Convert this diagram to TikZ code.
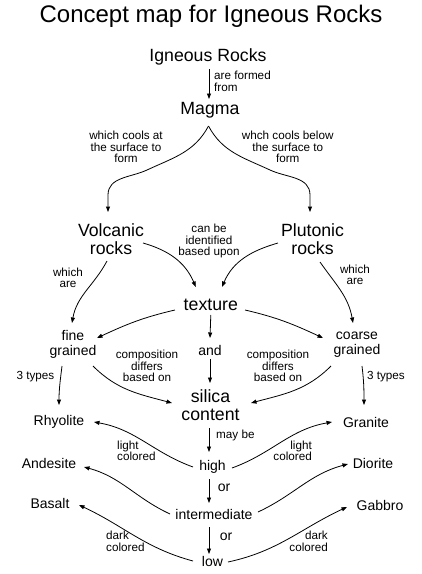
\documentclass[tikz,border=0pt]{standalone}
\usepackage{fontspec}
\setmainfont{Liberation Sans}
\usetikzlibrary{arrows.meta,calc}
\begin{document}
\begin{tikzpicture}[x=1pt,y=1pt,
  arr/.style={line width=0.8pt,-{Triangle[length=5.5pt,width=4pt]}},
  big/.style={font=\fontsize{17.7}{18}\selectfont,align=center,inner sep=0pt},
  mid/.style={font=\fontsize{14}{15}\selectfont,align=center,inner sep=0pt},
  lab/.style={font=\fontsize{11.7}{11.6}\selectfont,align=center,inner sep=0pt}]
\useasboundingbox[fill=white] (0,0) rectangle (422,-574);
% nodes
\node[font=\fontsize{24}{28}\selectfont] (title) at (211,-16) {Concept map for Igneous Rocks};
\node[big] (ign) at (208,-57) {Igneous Rocks};
\node[lab,align=left,anchor=west] (l1) at (214,-81.5) {are formed\\from};
\node[big] (magma) at (210,-110) {Magma};
\node[lab] (l2) at (126,-147) {which cools at\\the surface to\\form};
\node[lab] (l3) at (287.7,-147) {whch cools below\\the surface to\\form};
\node[big] (volc) at (111,-239) {Volcanic\\rocks};
\node[big] (plut) at (312.5,-239) {Plutonic\\rocks};
\node[lab] (l4) at (209,-241) {can be\\identified\\based upon};
\node[big] (tex) at (210.8,-305) {texture};
\node[lab] (l5) at (68,-278) {which\\are};
\node[lab] (l6) at (355,-275) {which\\are};
\node[mid] (fine) at (73,-344.5) {fine\\grained};
\node[mid] (coarse) at (357,-345) {coarse\\grained};
\node[mid] (and) at (210,-350) {and};
\node[lab] (l7) at (147,-366) {composition\\differs\\based on};
\node[lab] (l8) at (278,-366) {composition\\differs\\based on};
\node[lab] (l9) at (35.5,-377) {3 types};
\node[lab] (l10) at (386,-377) {3 types};
\node[big] (sil) at (210.5,-405.5) {silica\\content};
\node[mid] (rhy) at (59,-422) {Rhyolite};
\node[mid] (gra) at (366,-422) {Granite};
\node[lab,anchor=west] (l11) at (216,-435) {may be};
\node[mid] (high) at (212.5,-467) {high};
\node[lab,align=left,anchor=west] (l12) at (117,-451) {light\\colored};
\node[lab,align=right,anchor=east] (l13) at (312,-451) {light\\colored};
\node[mid] (and2) at (49,-463) {Andesite};
\node[mid] (dio) at (373,-463) {Diorite};
\node[mid] (or1) at (224,-488) {or};
\node[mid] (inter) at (214,-514) {intermediate};
\node[mid] (bas) at (50,-503) {Basalt};
\node[mid] (gab) at (380,-505) {Gabbro};
\node[mid] (or2) at (226,-537) {or};
\node[lab,align=left,anchor=west] (l14) at (106,-541.5) {dark\\colored};
\node[lab,align=right,anchor=east] (l15) at (328,-541.5) {dark\\colored};
\node[mid] (low) at (212.5,-561) {low};
% connectors
\draw[arr] ($(ign)+(1,-12)$) -- ($(magma)+(-1,11)$);
\draw[arr] ($(magma)+(-1.5,-16)$) to[out=-118,in=25] ($(magma)+(-63,-60)$)
  to[out=205,in=90] ($(volc)+(-3,44)$) -- ($(volc)+(-3,27)$);
\draw[arr] ($(magma)+(-1.5,-16)$) to[out=-62,in=155] ($(magma)+(60,-60)$)
  to[out=-25,in=90] ($(plut)+(-2.5,44)$) -- ($(plut)+(-2.5,27)$);
\draw[arr] ($(volc)+(32,-4)$) to[out=-16,in=113] ($(tex)+(-15,18)$);
\draw[arr] ($(plut)+(-34.5,-4)$) to[out=196,in=67] ($(tex)+(11.2,18)$);
\draw[arr] ($(volc)+(-4,-22)$) to[out=-118,in=80] ($(fine)+(-1,21.5)$);
\draw[arr] ($(plut)+(7.5,-23)$) to[out=-55,in=100] ($(coarse)+(-4,22)$);
\draw[arr] ($(tex)+(-35.8,-5)$) to[out=193,in=25] ($(fine)+(24,6.5)$);
\draw[arr] ($(tex)+(34.2,-5)$) to[out=-13,in=155] ($(coarse)+(-34,7)$);
\draw[arr] ($(tex)+(0,-10)$) -- ($(and)+(0,12)$);
\draw[arr] ($(and)+(0,-9)$) -- ($(sil)+(-0.5,22.5)$);
\draw[arr] ($(fine)+(20,-21.5)$) to[out=-45,in=165] ($(sil)+(-38.5,2.5)$);
\draw[arr] ($(coarse)+(-26,-21)$) to[out=-135,in=15] ($(sil)+(40.5,2.5)$);
\draw[arr] ($(fine)+(-11,-21.5)$) to[out=-97,in=90] ($(rhy)+(0,17)$);
\draw[arr] ($(coarse)+(5,-21)$) to[out=-83,in=90] ($(gra)+(-2,17)$);
\draw[arr] ($(sil)+(-1.5,-22.5)$) -- ($(high)+(-3.5,15)$);
\draw[arr] ($(high)+(-3.5,-12)$) -- ($(inter)+(-5,11)$);
\draw[arr] ($(inter)+(-5,-13)$) -- ($(low)+(-3.5,7)$);
\draw[arr] ($(high)+(-19.5,0)$) to[out=160,in=-10] ($(rhy)+(35,0)$);
\draw[arr] ($(high)+(19.5,-1)$) to[out=20,in=190] ($(gra)+(-34,0)$);
\draw[arr] ($(inter)+(-44,0)$) to[out=155,in=-15] ($(and2)+(35,-4)$);
\draw[arr] ($(inter)+(44,2)$) to[out=25,in=195] ($(dio)+(-25,-1)$);
\draw[arr] ($(low)+(-19.5,0)$) to[out=165,in=-25] ($(bas)+(29,-2)$);
\draw[arr] ($(low)+(15.5,-1)$) to[out=12,in=205] ($(gab)+(-33,-2)$);
\end{tikzpicture}
\end{document}
